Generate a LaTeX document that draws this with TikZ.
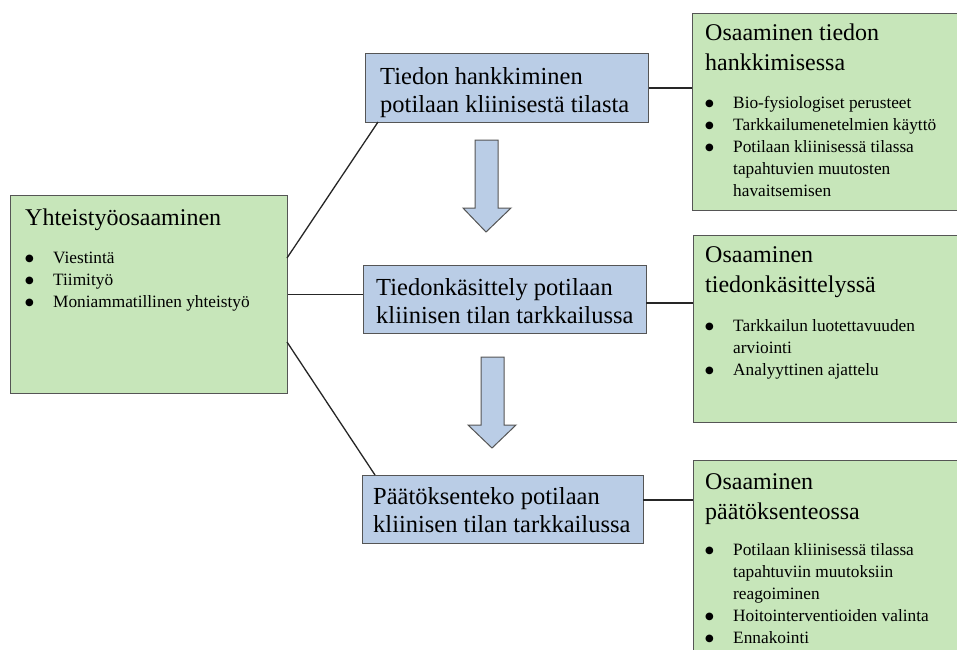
\documentclass[tikz,border=0pt]{standalone}
\usepackage{fontspec}
\setmainfont{Liberation Serif}
\newfontfamily\dotfont{DejaVu Sans}
\usepackage{tikz}

\definecolor{boxgreen}{RGB}{199,230,186}
\definecolor{boxblue}{RGB}{186,205,230}
\definecolor{boxline}{RGB}{85,85,85}

\tikzset{
  greenbox/.style={draw=boxline, line width=0.8pt, fill=boxgreen, anchor=north west, inner sep=0pt},
  bluebox/.style={draw=boxline, line width=0.8pt, fill=boxblue, anchor=north west, inner sep=0pt},
  greentitle/.style={anchor=base west, inner sep=0pt, font=\fontsize{24}{30}\selectfont},
  bluetitle/.style={anchor=base west, inner sep=0pt, font=\fontsize{24.5}{28}\selectfont},
  itemlist/.style={anchor=base west, inner sep=0pt, font=\fontsize{17.3}{22}\selectfont},
  link/.style={draw=black!85, line width=1.3pt},
  blockarrow/.style={draw=boxline, line width=1pt, fill=boxblue}
}

\newcommand{\itm}{\raisebox{1.3pt}{\dotfont\fontsize{10}{10}\selectfont ●} &}

\begin{document}
\begin{tikzpicture}[x=1pt,y=-1pt]
  \useasboundingbox (0,0) rectangle (957,649);
  \clip (0,0) rectangle (957,649);
  \fill[white] (0,0) rectangle (957,649);

  % boxes
  \node[greenbox, minimum width=277, minimum height=198] (yht) at (10,195) {};
  \node[greenbox, minimum width=300, minimum height=197] (hankO) at (692,13) {};
  \node[greenbox, minimum width=300, minimum height=187] (kasO) at (693,235) {};
  \node[greenbox, minimum width=300, minimum height=210] (paatO) at (693,460) {};
  \node[bluebox, minimum width=283, minimum height=69] (hank) at (365,53) {};
  \node[bluebox, minimum width=283, minimum height=68] (kas) at (363,265) {};
  \node[bluebox, minimum width=281, minimum height=68] (paat) at (362,475) {};

  % texts
  \node[greentitle] (yhtT) at (25,225) {Yhteistyöosaaminen};
  \node[itemlist] (yhtL) at (25,263) {\begin{tabular}[t]{@{}p{28pt}@{}l@{}}
    \itm Viestintä\\
    \itm Tiimityö\\
    \itm Moniammatillinen yhteistyö
  \end{tabular}};

  \node[bluetitle] (hankT) at (380,84) {\begin{tabular}[t]{@{}l@{}}Tiedon hankkiminen\\potilaan kliinisestä tilasta\end{tabular}};
  \node[bluetitle] (kasT) at (376,295) {\begin{tabular}[t]{@{}l@{}}Tiedonkäsittely potilaan\\kliinisen tilan tarkkailussa\end{tabular}};
  \node[bluetitle] (paatT) at (373,504) {\begin{tabular}[t]{@{}l@{}}Päätöksenteko potilaan\\kliinisen tilan tarkkailussa\end{tabular}};

  \node[greentitle] (hankOT) at (705,40) {\begin{tabular}[t]{@{}l@{}}Osaaminen tiedon\\hankkimisessa\end{tabular}};
  \node[itemlist] (hankOL) at (705,108) {\begin{tabular}[t]{@{}p{28pt}@{}l@{}}
    \itm Bio-fysiologiset perusteet\\
    \itm Tarkkailumenetelmien käyttö\\
    \itm Potilaan kliinisessä tilassa\\
    & tapahtuvien muutosten\\
    & havaitsemisen
  \end{tabular}};

  \node[greentitle] (kasOT) at (705,262) {\begin{tabular}[t]{@{}l@{}}Osaaminen\\tiedonkäsittelyssä\end{tabular}};
  \node[itemlist] (kasOL) at (705,331) {\begin{tabular}[t]{@{}p{28pt}@{}l@{}}
    \itm Tarkkailun luotettavuuden\\
    & arviointi\\
    \itm Analyyttinen ajattelu
  \end{tabular}};

  \node[greentitle] (paatOT) at (705,489) {\begin{tabular}[t]{@{}l@{}}Osaaminen\\päätöksenteossa\end{tabular}};
  \node[itemlist] (paatOL) at (705,555) {\begin{tabular}[t]{@{}p{28pt}@{}l@{}}
    \itm Potilaan kliinisessä tilassa\\
    & tapahtuviin muutoksiin\\
    & reagoiminen\\
    \itm Hoitointerventioiden valinta\\
    \itm Ennakointi
  \end{tabular}};

  % connectors
  \coordinate (y1) at (287,258);
  \coordinate (h1) at (378,122);
  \coordinate (y3) at (287,342);
  \coordinate (p1) at (375,475);
  \coordinate (k2) at (646,303);
  \coordinate (p2) at (643,500);
  \draw[link] (y1) -- (h1);
  \draw[link] (yht.east) -- (yht.east -| kas.west);
  \draw[link] (y3) -- (p1);
  \draw[link] (hank.east) -- (hank.east -| hankO.west);
  \draw[link] (k2) -- (k2 -| kasO.west);
  \draw[link] (p2) -- (p2 -| paatO.west);

  % block arrows
  \draw[blockarrow] (475,140) -- (498,140) -- (498,208) -- (511,208) -- (486,232)
    -- (463,208) -- (475,208) -- cycle;
  \draw[blockarrow] (481,357) -- (504,357) -- (504,425) -- (516,425) -- (492,448)
    -- (468,425) -- (481,425) -- cycle;
\end{tikzpicture}
\end{document}
